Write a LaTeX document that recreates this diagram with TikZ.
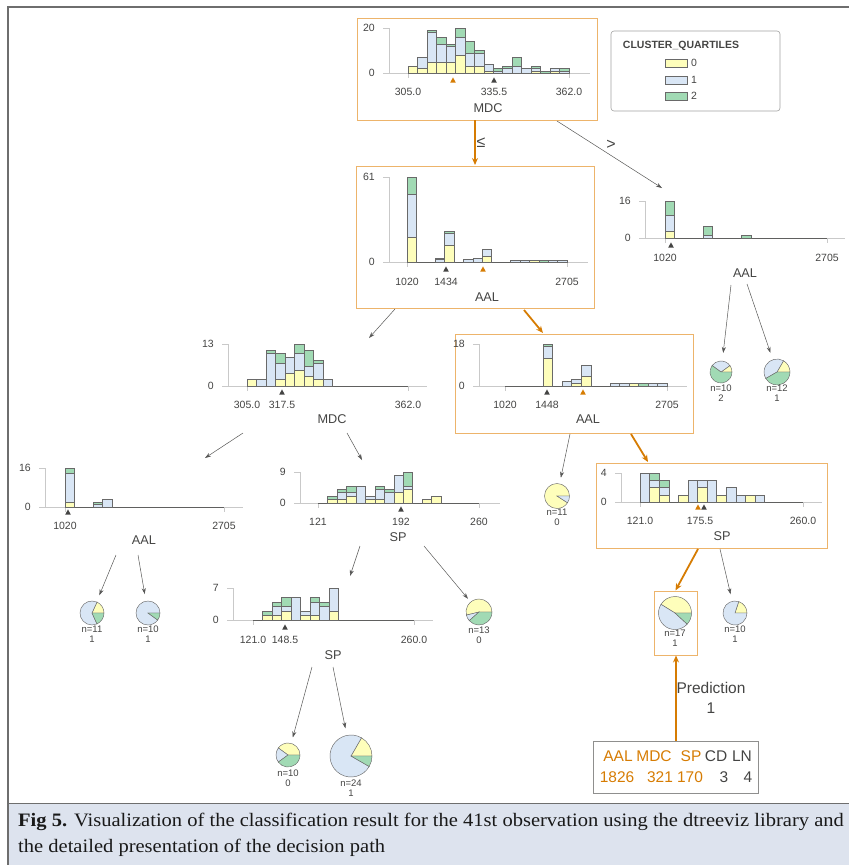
\documentclass[tikz,border=0pt]{standalone}
\usepackage{fontspec}
\setmainfont{Liberation Sans}
\newfontfamily\capfont{Liberation Serif}
\usetikzlibrary{arrows.meta}
\definecolor{cY}{HTML}{FEFEBB}
\definecolor{cB}{HTML}{D9E6F5}
\definecolor{cG}{HTML}{A1DAB4}
\definecolor{ink}{HTML}{444443}
\definecolor{hl}{HTML}{D67C03}
\definecolor{hlbox}{HTML}{EDB46B}
\definecolor{axc}{HTML}{C9C9C9}
\definecolor{capbg}{HTML}{DDE3EE}
\definecolor{framec}{HTML}{6E6E6E}

% #1 yaxis x, #2 axis end x, #3 top y, #4 base y, #5 first tick x, #6 last tick x, #7 px per unit, #8 list y/b/g
\newcommand\histo[8]{%
  \draw[axl] (#1,#3) -- (#1,#4);
  \draw[axl] (#1-6,#4) -- (#2,#4);
  \draw[axl] (#1-6,#3) -- (#1,#3);
  \draw[axl] (#5,#4) -- (#5,#4+5);
  \draw[axl] (#6,#4) -- (#6,#4+5);
  \draw[draw=ink!85, line width=0.6pt] (#5,#4) -- (#6,#4);
  \pgfmathsetmacro\hbw{(#6-#5)/17}
  \foreach \ya/\yb/\yc [count=\i from 0] in {#8}{%
    \pgfmathsetmacro\hxa{#5+\i*\hbw}
    \pgfmathsetmacro\hxb{\hxa+\hbw}
    \pgfmathsetmacro\hya{#4-\ya*#7}
    \pgfmathsetmacro\hyb{\hya-\yb*#7}
    \pgfmathsetmacro\hyc{\hyb-\yc*#7}
    \ifnum\ya>0 \filldraw[bar,fill=cY] (\hxa,#4) rectangle (\hxb,\hya);\fi
    \ifnum\yb>0 \filldraw[bar,fill=cB] (\hxa,\hya) rectangle (\hxb,\hyb);\fi
    \ifnum\yc>0 \filldraw[bar,fill=cG] (\hxa,\hyb) rectangle (\hxb,\hyc);\fi
  }}
% #1 centre, #2 radius, #3 #4 #5 counts
\newcommand\piech[5]{%
  \pgfmathsetmacro\pT{#3+#4+#5}
  \pgfmathsetmacro\pA{-360*#3/\pT}
  \pgfmathsetmacro\pB{-360*(#3+#4)/\pT}
  \ifnum#3>0 \filldraw[pw,fill=cY] (#1) -- ++(0:#2) arc[start angle=0,end angle=\pA,radius=#2] -- cycle;\fi
  \ifnum#4>0 \filldraw[pw,fill=cB] (#1) -- ++(\pA:#2) arc[start angle=\pA,end angle=\pB,radius=#2] -- cycle;\fi
  \ifnum#5>0 \filldraw[pw,fill=cG] (#1) -- ++(\pB:#2) arc[start angle=\pB,end angle=-360,radius=#2] -- cycle;\fi
}
\newcommand\mtri[3]{\fill[#3] (#1-2.8,#2+2.6) -- (#1+2.8,#2+2.6) -- (#1,#2-2.6) -- cycle;}

\begin{document}
\begin{tikzpicture}[x=1pt,y=-1pt,
  tl/.style={font=\fontsize{10.5}{12}\selectfont, text=ink, inner sep=0pt},
  al/.style={font=\fontsize{12.7}{14}\selectfont, text=ink, inner sep=0pt},
  ll/.style={font=\fontsize{9.5}{10}\selectfont, text=ink, inner sep=0pt, align=center},
  pl/.style={font=\fontsize{15.5}{18}\selectfont, inner sep=0pt},
  cl/.style={anchor=base west, inner sep=0pt, text=black!90, font=\capfont\fontsize{19}{21}\selectfont},
  axl/.style={draw=axc, line width=0.6pt},
  bar/.style={draw=ink!80, line width=0.45pt},
  pw/.style={draw=ink!80, line width=0.45pt},
  obox/.style={draw=hlbox, line width=1pt, inner sep=0pt},
  hbox/.style={draw=none, inner sep=0pt},
  pienode/.style={circle, draw=none, inner sep=0pt},
  garr/.style={draw=ink!90, line width=0.5pt, -{Stealth[length=6pt,width=4pt]}},
  oarr/.style={draw=hl, line width=1.8pt, -{Stealth[length=7pt,width=6pt]}}]
\useasboundingbox (0,0) rectangle (849,865);

% frame and caption band
\fill[capbg] (8,803) rectangle (849,865);
\draw[framec, line width=1pt] (8,803) -- (849,803);
\draw[framec, line width=1.4pt] (8,865) -- (8,7) -- (849,7);
\node[cl] (cap1) at (18,826) {\scalebox{1.08}[1]{\textbf{Fig 5.} Visualization of the classification result for the 41st observation using the dtreeviz library and}};
\node[cl] (cap2) at (18,852) {\scalebox{1.08}[1]{the detailed presentation of the decision path}};

% ---------- H1 root MDC
\node[obox, minimum width=240pt, minimum height=102pt] (h1) at (477,69) {};
\histo{389}{590}{28}{73}{408}{569}{2.25}{3/0/0,2/5/0,5/13/1,5/8/3,5/7/1,8/8/4,3/6/5,3/6/1,1/3/0,0/1/1,0/2/1,0/3/4,0/2/0,1/1/1,0/0/1,1/1/0,0/1/1}
\node[tl, anchor=east] at (375,28) {20};
\node[tl, anchor=east] at (375,73) {0};
\node[tl] at (408,92) {305.0};
\node[tl] at (494,92) {335.5};
\node[tl] at (569,92) {362.0};
\node[al] at (488,108) {MDC};
\mtri{453}{80}{hl}
\mtri{494}{80}{ink}

% legend
\draw[draw=ink!50, line width=0.6pt, rounded corners=3pt] (611,31) rectangle (780,111);
\node[font=\bfseries\fontsize{10.5}{12}\selectfont, text=ink, inner sep=0pt] (legt) at (681,46) {CLUSTER\_QUARTILES};
\filldraw[bar, fill=cY] (665,59) rectangle (687,67);
\filldraw[bar, fill=cB] (665,76) rectangle (687,84);
\filldraw[bar, fill=cG] (665,92) rectangle (687,100);
\node[tl, anchor=west] at (691,63) {0};
\node[tl, anchor=west] at (691,80) {1};
\node[tl, anchor=west] at (691,96) {2};

% ---------- H2 AAL (<=)
\node[obox, minimum width=238pt, minimum height=142pt] (h2) at (475,237) {};
\histo{389}{588}{177}{262}{407}{567}{1.393}{18/31/12,0/0/0,0/0/0,0/2/1,12/9/1,0/0/0,0/2/0,0/3/0,4/5/0,0/0/0,0/0/0,0/1/0,0/1/0,1/0/0,0/0/1,0/1/0,0/1/0}
\node[tl, anchor=east] at (375,177) {61};
\node[tl, anchor=east] at (375,262) {0};
\node[tl] at (407,282) {1020};
\node[tl] at (446,282) {1434};
\node[tl] at (567,282) {2705};
\node[al] at (487,297) {AAL};
\mtri{446}{269}{ink}
\mtri{483}{269}{hl}

% ---------- H3 AAL (>)
\node[hbox, minimum width=200pt, minimum height=85pt] (h3) at (740,235) {};
\histo{645}{845}{201}{238}{665}{827}{2.31}{3/7/6,0/0/0,0/0/0,0/0/0,0/1/4,0/0/0,0/0/0,0/0/0,0/0/1}
\node[tl, anchor=east] at (631,201) {16};
\node[tl, anchor=east] at (631,238) {0};
\node[tl] at (665,258) {1020};
\node[tl] at (827,258) {2705};
\node[al] at (745,273) {AAL};
\mtri{671}{245}{ink}

% ---------- H4 MDC (left)
\node[hbox, minimum width=210pt, minimum height=85pt] (h4) at (320,380) {};
\histo{228}{427}{344}{386}{247}{408}{3.23}{2/0/0,0/2/0,0/10/1,2/5/3,4/5/0,5/5/3,3/3/5,2/5/1,0/2/0}
\node[tl, anchor=east] at (214,344) {13};
\node[tl, anchor=east] at (214,386) {0};
\node[tl] at (247,405) {305.0};
\node[tl] at (282,405) {317.5};
\node[tl] at (408,405) {362.0};
\node[al] at (332,419) {MDC};
\mtri{282}{392}{ink}

% ---------- H5 AAL (orange)
\node[obox, minimum width=238pt, minimum height=99pt] (h5) at (574,383.5) {};
\histo{479}{687}{344}{386}{505}{667}{2.33}{0/0/0,0/0/0,0/0/0,0/0/0,12/5/1,0/0/0,0/2/0,1/2/0,4/5/0,0/0/0,0/0/0,0/1/0,0/1/0,1/0/0,0/0/1,0/1/0,0/1/0}
\node[tl, anchor=east] at (465,344) {18};
\node[tl, anchor=east] at (465,386) {0};
\node[tl] at (505,405) {1020};
\node[tl] at (547,405) {1448};
\node[tl] at (667,405) {2705};
\node[al] at (588,419) {AAL};
\mtri{547}{392}{ink}
\mtri{583}{392}{hl}

% ---------- H6 AAL (far left)
\node[hbox, minimum width=210pt, minimum height=85pt] (h6) at (130,505) {};
\histo{45}{243}{468}{507}{65}{224}{2.44}{2/12/2,0/0/0,0/0/0,0/1/1,0/3/0}
\node[tl, anchor=east] at (31,468) {16};
\node[tl, anchor=east] at (31,507) {0};
\node[tl] at (65,526) {1020};
\node[tl] at (224,526) {2705};
\node[al] at (144,540) {AAL};
\mtri{68}{512}{ink}

% ---------- H7 SP (middle)
\node[hbox, minimum width=210pt, minimum height=85pt] (h7) at (395,505) {};
\histo{300}{500}{472}{503}{318}{479}{3.44}{0/0/0,1/0/1,1/2/1,2/1/2,0/5/0,1/1/0,1/3/1,0/3/1,3/5/0,4/1/4,0/0/0,1/0/0,2/0/0}
\node[tl, anchor=east] at (286,472) {9};
\node[tl, anchor=east] at (286,503) {0};
\node[tl] at (318,522) {121};
\node[tl] at (401,522) {192};
\node[tl] at (479,522) {260};
\node[al] at (398,537) {SP};
\mtri{401}{509}{ink}

% ---------- H8 SP (orange)
\node[obox, minimum width=231pt, minimum height=85pt] (h8) at (711.5,505.5) {};
\histo{621}{822}{473}{502}{640}{803}{7.25}{0/4/0,2/1/1,1/1/1,0/0/0,1/0/0,0/3/0,2/1/0,0/3/0,1/0/0,0/2/0,0/1/0,1/0/0,0/1/0}
\node[tl, anchor=east] at (607,473) {4};
\node[tl, anchor=east] at (607,502) {0};
\node[tl] at (640,521) {121.0};
\node[tl] at (700,521) {175.5};
\node[tl] at (803,521) {260.0};
\node[al] at (722,536) {SP};
\mtri{698}{507}{hl}
\mtri{704}{507}{ink}

% ---------- H9 SP (lower)
\node[hbox, minimum width=210pt, minimum height=85pt] (h9) at (330,620) {};
\histo{233}{433}{588}{620}{253}{414}{4.57}{0/0/0,1/0/1,1/2/1,2/1/2,0/5/0,1/1/0,1/3/1,0/3/1,2/5/0}
\node[tl, anchor=east] at (219,588) {7};
\node[tl, anchor=east] at (219,620) {0};
\node[tl] at (253,640) {121.0};
\node[tl] at (285,640) {148.5};
\node[tl] at (414,640) {260.0};
\node[al] at (333,655) {SP};
\mtri{285}{627}{ink}

% ---------- pies
\node[pienode, minimum size=25pt] (p1) at (557,496) {};
\piech{p1.center}{12.5}{10}{1}{0}
\node[ll] at (557,517.5) {n=11\\0};

\node[obox, minimum width=43pt, minimum height=64pt] (p2box) at (675.5,623) {};
\node[pienode, minimum size=33pt] (p2) at (675,613) {};
\piech{p2.center}{16.5}{7}{8}{2}
\node[ll] at (675,638) {n=17\\1};

\node[pienode, minimum size=24pt] (p3) at (735,613) {};
\piech{p3.center}{12}{2}{8}{0}
\node[ll] at (735,634) {n=10\\1};

\node[pienode, minimum size=26pt] (p4) at (479,612) {};
\piech{p4.center}{13}{7}{1}{5}
\node[ll] at (479,635) {n=13\\0};

\node[pienode, minimum size=24pt] (p5) at (288,755) {};
\piech{p5.center}{12}{4}{2}{4}
\node[ll] at (288,778) {n=10\\0};

\node[pienode, minimum size=42pt] (p6) at (351,756) {};
\piech{p6.center}{21}{4}{18}{2}
\node[ll] at (351,788) {n=24\\1};

\node[pienode, minimum size=24pt] (p7) at (92,613) {};
\piech{p7.center}{12}{2}{7}{2}
\node[ll] at (92,634) {n=11\\1};

\node[pienode, minimum size=24pt] (p8) at (148,613) {};
\piech{p8.center}{12}{0}{9}{1}
\node[ll] at (148,634) {n=10\\1};

\node[pienode, minimum size=22pt] (p9) at (721,372) {};
\piech{p9.center}{11}{1}{3}{6}
\node[ll] at (721,393) {n=10\\2};

\node[pienode, minimum size=26pt] (p10) at (777,372) {};
\piech{p10.center}{13}{2}{5}{5}
\node[ll] at (777,393) {n=12\\1};

% ---------- prediction
\node[draw=ink!60, line width=0.8pt, minimum width=165pt, minimum height=52pt, inner sep=0pt] (feat) at (675.5,767) {};
\node[pl, text=hl] at (618,756) {AAL};
\node[pl, text=hl] at (654,756) {MDC};
\node[pl, text=hl] at (691,756) {SP};
\node[pl, text=ink] at (716,756) {CD};
\node[pl, text=ink] at (742,756) {LN};
\node[pl, text=hl] at (617,777) {1826};
\node[pl, text=hl] at (660,777) {321};
\node[pl, text=hl] at (690,777) {170};
\node[pl, text=ink] at (724,777) {3};
\node[pl, text=ink] at (748,777) {4};
\node[pl, text=ink, align=center, font=\fontsize{15.5}{20}\selectfont] (pred) at (711,698) {Prediction\\1};
\coordinate (px) at (676,0);
\draw[oarr, line width=2pt] (feat.north -| px) -- (p2box.south -| px);

% ---------- connectors
\coordinate (a1s) at (475,120); \coordinate (a1e) at (475,165);
\draw[oarr] (a1s) -- (a1e);
\node[font=\fontsize{16}{16}\selectfont, text=ink, inner sep=0pt] (le) at (481,143) {≤};
\coordinate (a2s) at (557,121); \coordinate (a2e) at (662,188);
\draw[garr] (a2s) -- (a2e);
\node[font=\fontsize{16}{16}\selectfont, text=ink, inner sep=0pt] (gt) at (611,145) {>};
\coordinate (a3s) at (395,309); \coordinate (a3e) at (369,338);
\draw[garr] (a3s) -- (a3e);
\coordinate (a4s) at (524,310); \coordinate (a4e) at (543,333);
\draw[oarr] (a4s) -- (a4e);
\coordinate (a5s) at (243,433); \coordinate (a5e) at (205,458);
\draw[garr] (a5s) -- (a5e);
\coordinate (a6s) at (347,433); \coordinate (a6e) at (362,460);
\draw[garr] (a6s) -- (a6e);
\coordinate (a7s) at (570,434);
\draw[garr, shorten >=6pt] (a7s) -- (p1);
\coordinate (a8s) at (631,434); \coordinate (a8e) at (648,462);
\draw[oarr] (a8s) -- (a8e);
\coordinate (a9s) at (731,285);
\draw[garr, shorten >=8pt] (a9s) -- (p9);
\coordinate (a10s) at (747,284);
\draw[garr, shorten >=7pt] (a10s) -- (p10);
\coordinate (a11s) at (116,555);
\draw[garr, shorten >=7pt] (a11s) -- (p7);
\coordinate (a12s) at (138,555);
\draw[garr, shorten >=7pt] (a12s) -- (p8);
\coordinate (a13s) at (360,546); \coordinate (a13e) at (350,576);
\draw[garr] (a13s) -- (a13e);
\coordinate (a14s) at (424,546);
\draw[garr, shorten >=4pt] (a14s) -- (p4);
\coordinate (a15s) at (698,549);
\draw[oarr] (a15s) -- (p2box.north);
\coordinate (a16s) at (720,549);
\draw[garr, shorten >=7pt] (a16s) -- (p3);
\coordinate (a17s) at (312,667);
\draw[garr, shorten >=6pt] (a17s) -- (p5);
\coordinate (a18s) at (333,667);
\draw[garr, shorten >=7pt] (a18s) -- (p6);
\end{tikzpicture}
\end{document}
